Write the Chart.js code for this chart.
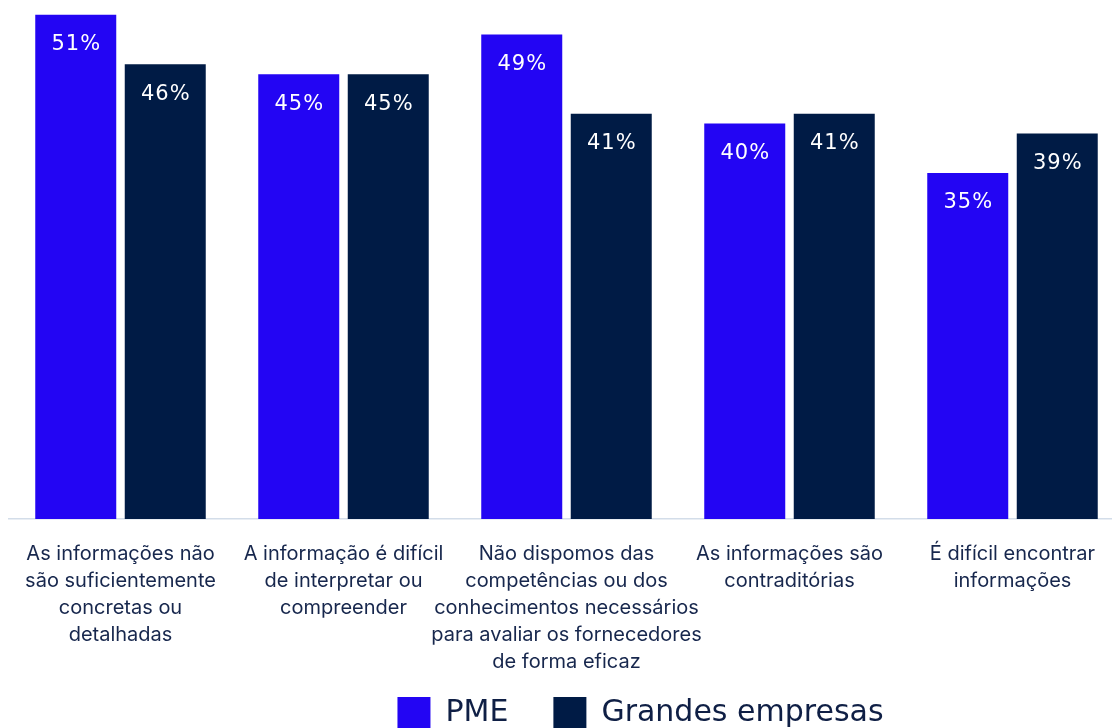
<!DOCTYPE html>
<html>
<head>
<meta charset="utf-8">
<script src="https://cdn.jsdelivr.net/npm/chart.js@4"></script>
<style>
html,body{margin:0;padding:0;background:#fff;overflow:hidden;width:1112px;height:728px;}
#wrap{position:absolute;left:0;top:0;width:1124px;height:740px;}
</style>
</head>
<body>
<div id="wrap"><canvas id="c" width="1124" height="740"></canvas></div>
<script>
const categories = [
  ["As informações não","são suficientemente","concretas ou","detalhadas"],
  ["A informação é difícil","de interpretar ou","compreender"],
  ["Não dispomos das","competências ou dos","conhecimentos necessários","para avaliar os fornecedores","de forma eficaz"],
  ["As informações são","contraditórias"],
  ["É difícil encontrar","informações"]
];
const seriesNames = ["PME", "Grandes empresas"];
const pmeValues = [51, 45, 49, 40, 35];
const grandesValues = [46, 45, 41, 41, 39];
const colors = ["#2305f3", "#001b45"];

const barLabels = {
  id: 'barLabels',
  afterDatasetsDraw(chart) {
    const ctx = chart.ctx;
    ctx.save();
    ctx.fillStyle = '#ffffff';
    ctx.font = '21px "DejaVu Sans"';
    ctx.letterSpacing = '1px';
    ctx.textAlign = 'center';
    ctx.textBaseline = 'middle';
    chart.data.datasets.forEach((ds, di) => {
      chart.getDatasetMeta(di).data.forEach((bar, i) => {
        ctx.fillText(ds.data[i] + '%', bar.x + 0.5, bar.y + 30);
      });
    });
    ctx.restore();
  }
};

const shiftLegend = {
  id: 'shiftLegend',
  afterLayout(chart) {
    const lg = chart.legend;
    lg.left += 74; lg.right += 74;
    chart.scales.x.bottom = chart.height;
  }
};

new Chart(document.getElementById('c'), {
  type: 'bar',
  data: {
    labels: categories,
    datasets: [
      { label: seriesNames[0], data: pmeValues, backgroundColor: colors[0], categoryPercentage: 0.8027, barPercentage: 0.905 },
      { label: seriesNames[1], data: grandesValues, backgroundColor: colors[1], categoryPercentage: 0.8027, barPercentage: 0.905 }
    ]
  },
  options: {
    responsive: false,
    animation: false,
    devicePixelRatio: 1,
    layout: { padding: { left: 9, right: 0, top: 0, bottom: 0 } },
    plugins: {
      tooltip: { enabled: false },
      legend: {
        position: 'bottom',
        labels: {
          boxWidth: 33, boxHeight: 33, padding: 45,
          color: '#0f1f45',
          font: { family: 'DejaVu Sans', size: 30 }
        }
      }
    },
    scales: {
      x: {
        grid: { display: false, drawTicks: false },
        border: { display: true, color: '#d3dde9', width: 1.5 },
        ticks: {
          color: '#17274d',
          font: { family: 'Inter', size: 20, lineHeight: 1.36 },
          maxRotation: 0, autoSkip: false, padding: 21
        },
        afterFit(scale) { scale.height = 133; }
      },
      y: {
        display: false,
        min: 0, max: 52.5
      }
    }
  },
  plugins: [barLabels, shiftLegend]
});
</script>
</body>
</html>
